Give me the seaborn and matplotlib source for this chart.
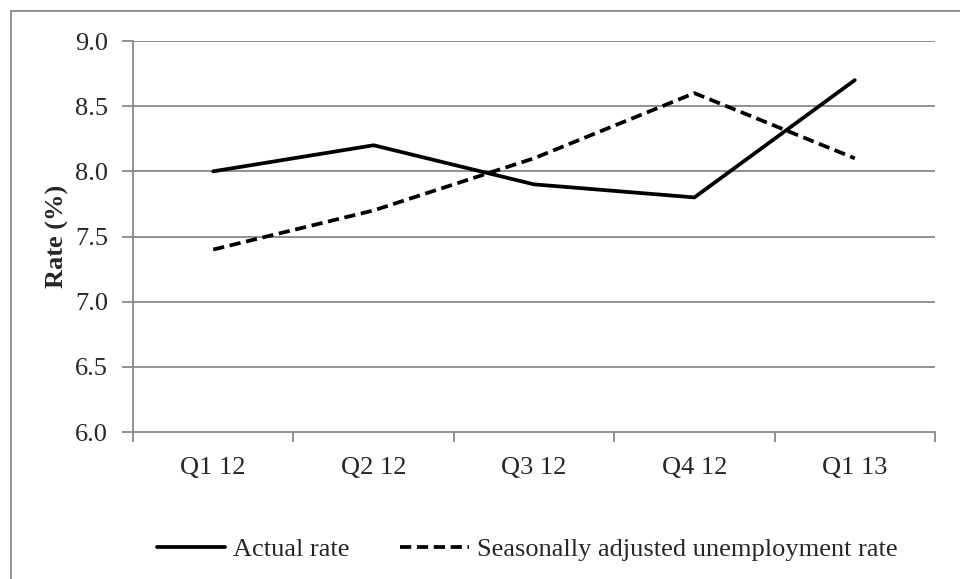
import matplotlib
matplotlib.use("Agg")
import matplotlib.pyplot as plt
import seaborn as sns
import pandas as pd
import numpy as np
from matplotlib.patches import Rectangle
from matplotlib.lines import Line2D

quarters = ["Q1 12", "Q2 12", "Q3 12", "Q4 12", "Q1 13"]
actual_rate = [8.0, 8.2, 7.9, 7.8, 8.7]
seasonal_rate = [7.4, 7.7, 8.1, 8.6, 8.1]
series_names = ["Actual rate", "Seasonally adjusted unemployment rate"]
y_ticks = [6.0, 6.5, 7.0, 7.5, 8.0, 8.5, 9.0]

df = pd.DataFrame({
    "quarter": list(range(len(quarters))) * 2,
    "rate": actual_rate + seasonal_rate,
    "series": [series_names[0]] * len(quarters) + [series_names[1]] * len(quarters),
})

sns.set_theme(style="white")
plt.rcParams["font.family"] = ["Liberation Serif", "DejaVu Serif"]
FS = 19

fig = plt.figure(figsize=(9.6, 5.79), dpi=100)
ax = fig.add_axes([133/960, 1-432/579, (935-133)/960, (432-41)/579])

grid_c = "#888888"
for y in y_ticks[1:]:
    ax.axhline(y, color=grid_c, lw=1.3, zorder=0)

sns.lineplot(data=df, x="quarter", y="rate", hue="series", style="series",
             palette=["black", "black"],
             dashes={series_names[0]: "", series_names[1]: (3, 1.5)},
             linewidth=2.7, ax=ax, legend=False)
for ln in ax.get_lines():
    ln.set_solid_capstyle("round")
    ln.set_dash_capstyle("butt")

ax.set_xlim(-0.5, len(quarters) - 0.5)
ax.set_ylim(6.0, 9.0)
ax.set_yticks(y_ticks)
ax.set_yticklabels([f"{v:.1f}" for v in y_ticks], fontsize=FS)
ax.set_xticks(range(len(quarters)))
ax.set_xticklabels(quarters, fontsize=FS)
ax.set_xticks(np.arange(-0.5, len(quarters), 1.0), minor=True)
ax.tick_params(axis="x", which="major", bottom=True, length=0, pad=18)
ax.tick_params(axis="x", which="minor", bottom=True, length=7, width=1.3, color=grid_c, direction="out")
ax.tick_params(axis="y", which="major", left=True, length=8, width=1.3, color=grid_c, direction="out", pad=10)
ax.set_xlabel("")
ax.set_ylabel("Rate (%)", fontsize=FS, fontweight="bold", labelpad=4)

for s in ["top", "right"]:
    ax.spines[s].set_visible(False)
for s in ["left", "bottom"]:
    ax.spines[s].set_color(grid_c)
    ax.spines[s].set_linewidth(1.3)

handles = [
    Line2D([], [], color="black", lw=2.7, solid_capstyle="round"),
    Line2D([], [], color="black", lw=2.7, linestyle=(0, (3, 1.5))),
]
fig.legend(handles, series_names, loc="center", bbox_to_anchor=(527/960, 1-549/579),
           ncol=2, frameon=False, fontsize=FS, handlelength=2.6,
           handletextpad=0.3, columnspacing=1.9)

fig.add_artist(Rectangle((11/960, -0.1), 1.2, 1 - 11/579 + 0.1, transform=fig.transFigure,
                         fill=False, edgecolor="#888888", lw=1.3))

fig.savefig("out.png", dpi=100)
